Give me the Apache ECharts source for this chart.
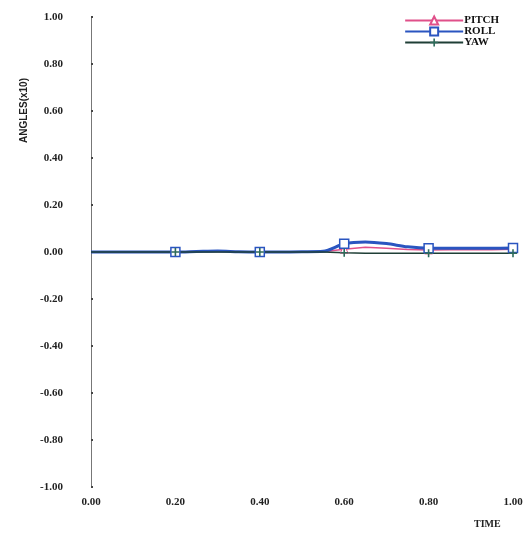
<!DOCTYPE html>
<html><head><meta charset="utf-8">
<script src="https://cdn.jsdelivr.net/npm/echarts@6/dist/echarts.min.js"></script>
<style>html,body{margin:0;padding:0;background:#fff}#c{width:528px;height:539px}</style>
</head><body><div id="c"></div>
<script>
const time  = [0,0.05,0.1,0.15,0.2,0.25,0.3,0.35,0.4,0.45,0.5,0.55,0.6,0.65,0.7,0.75,0.8,0.85,0.9,0.95,1.0];
const pitch = [0,0,0,0,0,0.002,0.003,0.001,0,0,0,0.001,0.012,0.02,0.016,0.011,0.009,0.01,0.01,0.01,0.012];
const roll  = [0,0,0,0,0,0.002,0.004,0.001,0,0,0.001,0.003,0.035,0.043,0.036,0.022,0.016,0.016,0.016,0.016,0.017];
const yaw   = [0,0,0,0,0,0,0,0,0,0,0,0,-0.003,-0.005,-0.005,-0.005,-0.005,-0.005,-0.005,-0.005,-0.005];
const markerTimes = [0.2,0.4,0.6,0.8,1.0];
const yTicks = ['-1.00','-0.80','-0.60','-0.40','-0.20','0.00','0.20','0.40','0.60','0.80','1.00'];
const xTicks = ['0.00','0.20','0.40','0.60','0.80','1.00'];

const font = 'Liberation Serif';
function mk(vals){ return time.map((t,i)=>[t,vals[i]]); }
function symSize(sz){ return function(v){ return markerTimes.some(m=>Math.abs(m-v[0])<1e-6) ? sz : 0; }; }

const chart = echarts.init(document.getElementById('c'));
chart.setOption({
  animation:false,
  backgroundColor:'#fff',
  grid:{left:91,right:15,top:17,bottom:52},
  legend:{
    right:24, top:10, orient:'vertical', itemGap:0, itemWidth:58, itemHeight:10,
    textStyle:{fontFamily:font,fontWeight:'bold',fontSize:11,color:'#111',padding:[0,0,0,-4]},
    data:['PITCH','ROLL','YAW']
  },
  xAxis:{
    type:'value', min:0, max:1, interval:0.2,
    axisLine:{show:false}, axisTick:{show:false}, splitLine:{show:false},
    axisLabel:{margin:10,fontFamily:font,fontWeight:'bold',fontSize:11,color:'#222',
      formatter:(v)=>xTicks[Math.round(v/0.2)]}
  },
  yAxis:{
    type:'value', min:-1, max:1, interval:0.2,
    axisLine:{show:true,onZero:false,lineStyle:{color:'#777',width:1}},
    axisTick:{show:true,inside:true,length:2,lineStyle:{color:'#444',width:2}},
    splitLine:{show:false},
    axisLabel:{margin:28,fontFamily:font,fontWeight:'bold',fontSize:11,color:'#222',
      formatter:(v)=>yTicks[Math.round((v+1)/0.2)]}
  },
  graphic:[
    {type:'text',left:19,top:78,rotation:Math.PI/2,
      style:{text:'ANGLES(x10)',fontFamily:'Liberation Sans Narrow, Liberation Sans',fontWeight:'bold',fontSize:10,fill:'#222'}},
    {type:'text',left:474,top:519,
      style:{text:'TIME',fontFamily:font,fontWeight:'bold',fontSize:10,fill:'#222'}}
  ],
  series:[
    {name:'PITCH',type:'line',data:mk(pitch),symbol:'triangle',symbolSize:symSize(8),showAllSymbol:true,
      itemStyle:{color:'#fff',borderColor:'#e0508a',borderWidth:1},
      lineStyle:{color:'#e0508a',width:1.5},color:'#e0508a'},
    {name:'ROLL',type:'line',data:mk(roll),symbol:'rect',symbolSize:symSize(9),showAllSymbol:true,smooth:0.3,
      itemStyle:{color:'#fff',borderColor:'#2a55c0',borderWidth:1.5},
      lineStyle:{color:'#2a55c0',width:3},color:'#2a55c0'},
    {name:'YAW',type:'line',data:mk(yaw),symbol:'path://M4,0L6,0L6,4L10,4L10,6L6,6L6,10L4,10L4,6L0,6L0,4L4,4Z',symbolSize:symSize(8),showAllSymbol:true,
      itemStyle:{color:'#2e6b5a'},
      lineStyle:{color:'#1f3f36',width:1.5},color:'#2e6b5a'}
  ]
});
</script></body></html>
